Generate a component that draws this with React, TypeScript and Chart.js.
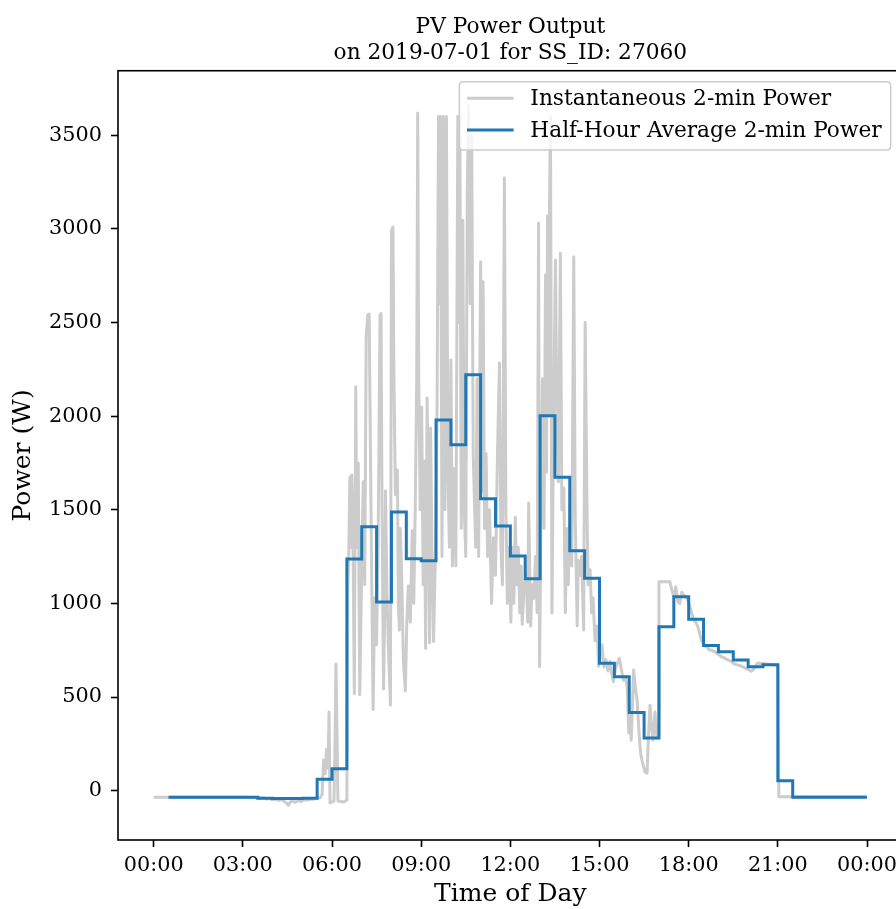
import React, { useEffect, useRef } from 'react';
import { Chart, registerables } from 'chart.js';

Chart.register(...registerables);

const FONT = '"DejaVu Serif", "Liberation Serif", serif';

// Axis ticks
const xTickMinutes = [0, 180, 360, 540, 720, 900, 1080, 1260, 1440];
const xTickLabels = ['00:00', '03:00', '06:00', '09:00', '12:00', '15:00', '18:00', '21:00', '00:00'];
const yTickValues = [0, 500, 1000, 1500, 2000, 2500, 3000, 3500];

// Instantaneous 2-min power (minutes after midnight, W)
const grayTimes = [
  0, 30, 60, 90, 120, 150, 180, 210, 216, 222, 228, 234, 240, 246, 252, 258, 264, 268, 272, 276,
  280, 286, 292, 298, 304, 310, 316, 322, 328, 336, 340, 343, 346, 349, 352, 354, 356, 360, 364, 366,
  368, 370, 372, 378, 384, 390, 392, 394, 396, 398, 400, 402, 405, 408, 410, 413, 416, 420, 423, 426,
  429, 432, 435, 438, 441, 443, 446, 450, 453, 457, 459, 461, 464, 466, 468, 471, 474, 478, 480, 483,
  485, 488, 492, 494, 496, 498, 501, 504, 508, 511, 514, 518, 522, 525, 528, 531, 533, 535, 538, 541,
  544, 546, 549, 552, 555, 557, 559, 562, 565, 569, 572, 575, 577, 579, 582, 585, 588, 591, 594, 597,
  600, 603, 606, 610, 614, 616, 618, 621, 624, 627, 630, 633, 636, 639, 642, 645, 650, 653, 656, 660,
  663, 665, 668, 671, 674, 678, 682, 686, 690, 694, 698, 701, 704, 708, 711, 714, 718, 721, 724, 727,
  730, 733, 736, 739, 742, 744, 748, 752, 755, 757, 761, 764, 767, 771, 774, 777, 779, 782, 785, 788,
  791, 793, 795, 797, 799, 801, 804, 807, 811, 814, 817, 821, 824, 828, 831, 834, 837, 841, 844, 848,
  851, 855, 857, 861, 864, 868, 871, 875, 877, 881, 884, 887, 891, 895, 898, 901, 905, 909, 913, 917,
  921, 925, 928, 932, 936, 940, 944, 948, 952, 956, 959, 961, 964, 969, 972, 976, 980, 983, 986, 989,
  992, 996, 999, 1002, 1005, 1008, 1012, 1016, 1019, 1020, 1042, 1046, 1050, 1054, 1058, 1062, 1066, 1070, 1074, 1078,
  1082, 1086, 1090, 1094, 1098, 1102, 1106, 1110, 1114, 1118, 1122, 1126, 1130, 1134, 1138, 1142, 1146, 1150, 1154, 1158,
  1162, 1166, 1170, 1174, 1178, 1182, 1186, 1190, 1194, 1198, 1202, 1206, 1210, 1214, 1218, 1222, 1226, 1230, 1240, 1250,
  1258, 1260, 1262, 1300, 1350, 1400, 1438,
];
const grayPower = [
  -35, -35, -35, -35, -35, -35, -35, -36, -40, -38, -44, -42, -48, -45, -52, -47, -58, -66, -78, -60,
  -55, -62, -52, -58, -48, -50, -44, -46, -40, -38, -20, 164, 90, 220, 120, 420, -65, -60, -55, 250,
  676, 320, -55, -58, -60, -50, 1100, 1275, 1675, 1300, 1686, 1450, 518, 2157, 1300, 1750, 513, 1200, 1650, 1100,
  2420, 2540, 2545, 1700, 900, 434, 1030, 780, 1300, 2540, 2548, 1500, 543, 900, 1600, 1050, 750, 457, 2990, 3010,
  2200, 1580, 1712, 1000, 857, 1400, 1100, 700, 532, 900, 1094, 900, 1388, 1000, 1500, 2200, 3618, 2230, 1500, 2049,
  1100, 1760, 760, 2097, 1400, 790, 1937, 1200, 797, 1300, 2000, 3600, 2600, 3600, 1250, 3600, 1500, 3600, 1700, 1300,
  2300, 1200, 1720, 1200, 3600, 2500, 3600, 1400, 3046, 1500, 1250, 3200, 3657, 2600, 3500, 1800, 1300, 2200, 1250, 2824,
  1600, 2717, 1400, 1800, 1250, 1500, 1000, 1350, 1150, 1800, 2283, 1300, 1100, 3271, 1500, 1000, 1300, 900, 1300, 1000,
  1460, 1100, 1300, 950, 1200, 889, 1100, 1160, 900, 1536, 880, 1100, 1026, 1250, 950, 3031, 662, 1500, 2200, 1400,
  2753, 1700, 3068, 2000, 3118, 3600, 949, 1900, 2833, 2000, 1650, 2870, 1500, 1616, 950, 1400, 1100, 1600, 1200, 2851,
  1458, 880, 1230, 1150, 1250, 858, 2500, 1458, 1100, 1180, 950, 1030, 800, 880, 665, 713, 780, 660, 700, 640,
  690, 620, 582, 650, 680, 707, 650, 590, 610, 553, 308, 420, 270, 644, 560, 480, 300, 200, 160, 128,
  100, 94, 308, 457, 340, 270, 420, 280, 300, 1116, 1116, 1071, 1036, 1089, 1010, 1000, 1060, 1045, 1036, 1018,
  990, 950, 915, 900, 880, 840, 800, 787, 770, 765, 750, 752, 745, 740, 730, 725, 715, 712, 705, 700,
  695, 690, 680, 675, 672, 670, 665, 660, 655, 650, 645, 638, 645, 660, 680, 682, 678, 680, 676, 672,
  670, 670, -32, -32, -32, -32, -32,
];

// Half-hour average (end of each half-hour period, minutes; W)
const halfHourEnd = [
  30, 60, 90, 120, 150, 180, 210, 240, 270, 300, 330, 360,
  390, 420, 450, 480, 510, 540, 570, 600, 630, 660, 690, 720,
  750, 780, 810, 840, 870, 900, 930, 960, 990, 1020, 1050, 1080,
  1110, 1140, 1170, 1200, 1230, 1260, 1290, 1320, 1350, 1380, 1410, 1440,
];
const halfHourPower = [
  -35, -35, -35, -35, -35, -35, -35, -40, -42, -42, -40, 62,
  117, 1237, 1410, 1007, 1488, 1239, 1228, 1979, 1847, 2221, 1559, 1413,
  1253, 1132, 2002, 1673, 1281, 1134, 681, 609, 418, 281, 876, 1036,
  915, 776, 742, 698, 662, 673, 53, -35, -35, -35, -35, -35,
];

const SERIES_GRAY = 'Instantaneous 2-min Power';
const SERIES_BLUE = 'Half-Hour Average 2-min Power';

export default function App() {
  const ref = useRef<HTMLCanvasElement>(null);

  useEffect(() => {
    const canvas = ref.current;
    if (!canvas) return;

    const framePlugin = {
      id: 'frame',
      afterDraw(chart: any) {
        const { ctx, chartArea: a } = chart;
        ctx.save();
        ctx.strokeStyle = '#000';
        ctx.lineWidth = 1.6;
        ctx.strokeRect(a.left, a.top, a.right - a.left, a.bottom - a.top);
        ctx.restore();
      },
    };

    const legendPlugin = {
      id: 'mplLegend',
      afterDraw(chart: any) {
        const { ctx, chartArea: a } = chart;
        const items = [
          { text: SERIES_GRAY, color: '#cccccc' },
          { text: SERIES_BLUE, color: '#1f77b4' },
        ];
        ctx.save();
        ctx.font = `21.7px ${FONT}`;
        const textW = Math.max(...items.map((i) => ctx.measureText(i.text).width));
        const right = a.right - 12;
        const top = a.top + 11;
        const w = 71 + textW + 9;
        const h = 68.3;
        const left = right - w;
        const r = 4;
        ctx.beginPath();
        ctx.moveTo(left + r, top);
        ctx.lineTo(right - r, top);
        ctx.quadraticCurveTo(right, top, right, top + r);
        ctx.lineTo(right, top + h - r);
        ctx.quadraticCurveTo(right, top + h, right - r, top + h);
        ctx.lineTo(left + r, top + h);
        ctx.quadraticCurveTo(left, top + h, left, top + h - r);
        ctx.lineTo(left, top + r);
        ctx.quadraticCurveTo(left, top, left + r, top);
        ctx.closePath();
        ctx.fillStyle = 'rgba(255,255,255,0.8)';
        ctx.fill();
        ctx.strokeStyle = '#cccccc';
        ctx.lineWidth = 1.5;
        ctx.stroke();
        items.forEach((it, i) => {
          const cy = top + 16.6 + i * 31.7;
          ctx.beginPath();
          ctx.moveTo(left + 7.7, cy);
          ctx.lineTo(left + 54.3, cy);
          ctx.strokeStyle = it.color;
          ctx.lineWidth = 3;
          ctx.stroke();
          ctx.fillStyle = '#000';
          ctx.textBaseline = 'alphabetic';
          ctx.textAlign = 'left';
          ctx.fillText(it.text, left + 71, top + 23.3 + i * 31.7);
        });
        ctx.restore();
      },
    };

    const chart = new Chart(canvas, {
      type: 'line',
      data: {
        datasets: [
          {
            label: SERIES_BLUE,
            data: halfHourEnd.map((t, i) => ({ x: t, y: halfHourPower[i] })),
            borderColor: '#1f77b4',
            backgroundColor: '#1f77b4',
            borderWidth: 3,
            stepped: 'after',
            pointRadius: 0,
            fill: false,
            order: 0,
            borderJoinStyle: 'miter',
          },
          {
            label: SERIES_GRAY,
            data: grayTimes.map((t, i) => ({ x: t, y: grayPower[i] })),
            borderColor: '#cccccc',
            backgroundColor: '#cccccc',
            borderWidth: 3,
            pointRadius: 0,
            tension: 0,
            fill: false,
            order: 1,
            borderJoinStyle: 'round',
          },
        ],
      },
      options: {
        responsive: false,
        animation: false,
        devicePixelRatio: 1,
        events: [],
        layout: { padding: 0 },
        plugins: {
          legend: { display: false },
          tooltip: { enabled: false },
          title: {
            display: true,
            text: ['PV Power Output', 'on 2019-07-01 for SS_ID: 27060'],
            color: '#000',
            font: { family: FONT, size: 21.7, weight: 'normal', lineHeight: 1.2 },
            padding: { top: 13.85, bottom: 4.8 },
            fullSize: false,
          },
        },
        scales: {
          x: {
            type: 'linear',
            min: -72,
            max: 1512,
            afterBuildTicks: (s: any) => {
              s.ticks = xTickMinutes.map((v) => ({ value: v }));
            },
            afterFit: (s: any) => {
              s.height = 69;
            },
            ticks: {
              callback: (_v: any, i: number) => xTickLabels[i],
              color: '#000',
              font: { family: FONT, size: 20.8 },
              padding: 6,
              maxRotation: 0,
              autoSkip: false,
            },
            grid: {
              drawOnChartArea: false,
              drawTicks: true,
              tickLength: 7,
              tickWidth: 1.6,
              tickColor: '#000',
              color: '#000',
            },
            border: { display: false },
            title: {
              display: true,
              text: 'Time of Day',
              color: '#000',
              font: { family: FONT, size: 25 },
              padding: { top: 0, bottom: 0 },
            },
          },
          y: {
            type: 'linear',
            min: -263,
            max: 3844,
            afterBuildTicks: (s: any) => {
              s.ticks = yTickValues.map((v) => ({ value: v }));
            },
            afterFit: (s: any) => {
              s.width = 118;
            },
            ticks: {
              callback: (v: any) => String(v),
              color: '#000',
              font: { family: FONT, size: 20.8 },
              padding: 9,
              autoSkip: false,
            },
            grid: {
              drawOnChartArea: false,
              drawTicks: true,
              tickLength: 7,
              tickWidth: 1.6,
              tickColor: '#000',
              color: '#000',
            },
            border: { display: false },
            title: {
              display: true,
              text: 'Power (W)',
              color: '#000',
              font: { family: FONT, size: 25 },
              padding: { top: 8.6, bottom: 0 },
            },
          },
        },
      },
      plugins: [framePlugin, legendPlugin],
    } as any);

    return () => chart.destroy();
  }, []);

  return (
    <div
      style={{
        position: 'fixed',
        left: 0,
        top: 0,
        width: 896,
        height: 909,
        overflow: 'hidden',
        background: '#fff',
      }}
    >
      <canvas ref={ref} width={903} height={909} style={{ display: 'block', width: 903, height: 909 }} />
    </div>
  );
}
